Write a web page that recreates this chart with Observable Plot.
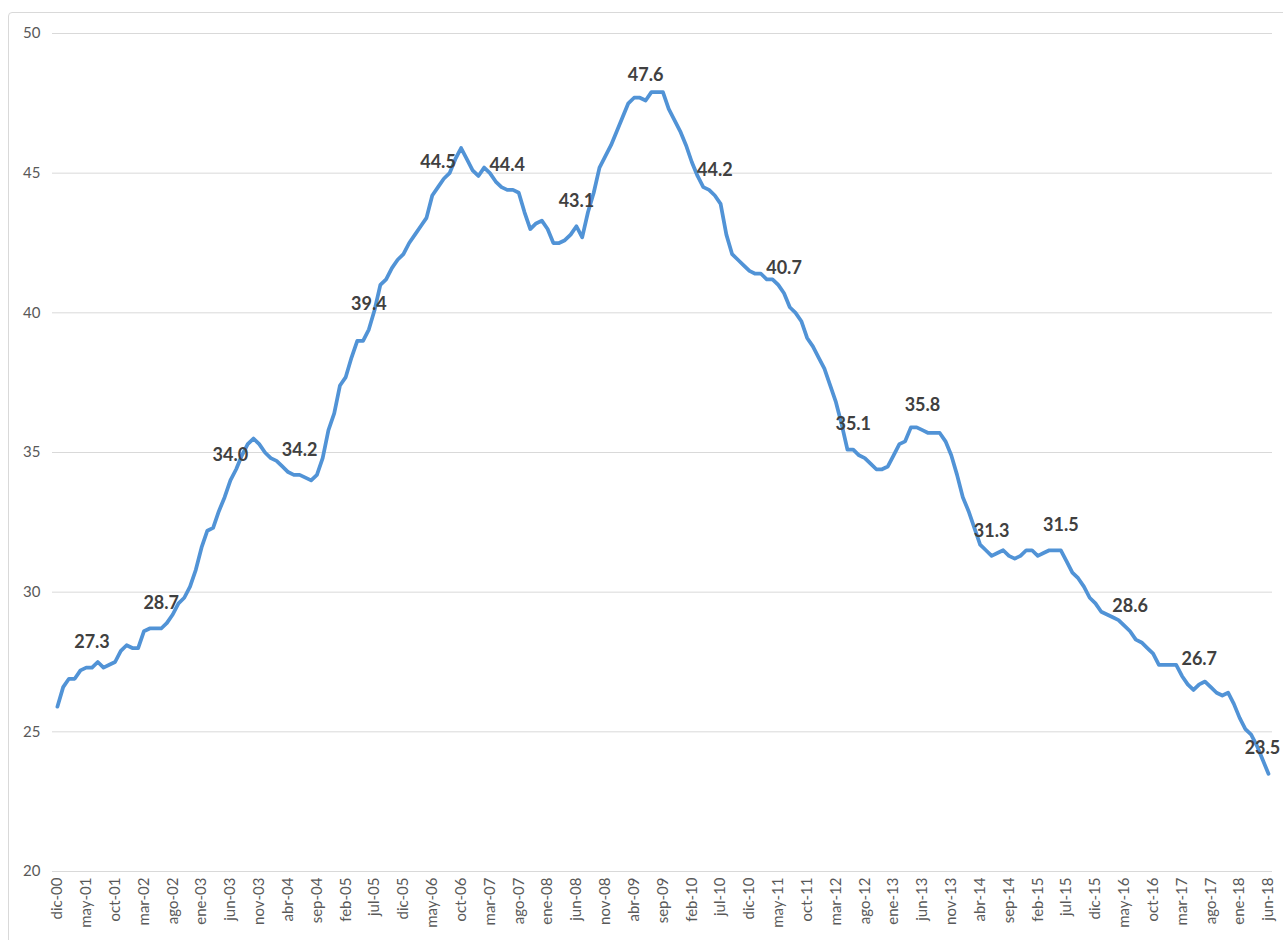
<!DOCTYPE html>
<html>
<head>
<meta charset="utf-8">
<script src="https://cdn.jsdelivr.net/npm/d3@7"></script>
<script src="https://cdn.jsdelivr.net/npm/@observablehq/plot@0.6"></script>
<style>
  html, body { margin: 0; padding: 0; background: #ffffff; }
  #wrap { position: relative; width: 1283px; height: 940px; overflow: hidden; }
  #frame { position: absolute; left: 8px; top: 12px; width: 1400px; height: 1000px; border: 1px solid #d9d9d9; border-radius: 4px; }
  #chart { position: absolute; left: 0; top: 0; }
</style>
</head>
<body>
<div id="wrap"><div id="frame"></div><div id="chart"></div></div>
<script>
// Monthly series, dic-00 (index 0) to jun-18 (index 210)
const values = [
  25.9, 26.6, 26.9, 26.9, 27.2, 27.3, 27.3, 27.5, 27.3, 27.4,
  27.5, 27.9, 28.1, 28.0, 28.0, 28.6, 28.7, 28.7, 28.7, 28.9,
  29.2, 29.6, 29.8, 30.2, 30.8, 31.6, 32.2, 32.3, 32.9, 33.4,
  34.0, 34.4, 34.9, 35.3, 35.5, 35.3, 35.0, 34.8, 34.7, 34.5,
  34.3, 34.2, 34.2, 34.1, 34.0, 34.2, 34.8, 35.8, 36.4, 37.4,
  37.7, 38.4, 39.0, 39.0, 39.4, 40.1, 41.0, 41.2, 41.6, 41.9,
  42.1, 42.5, 42.8, 43.1, 43.4, 44.2, 44.5, 44.8, 45.0, 45.5,
  45.9, 45.5, 45.1, 44.9, 45.2, 45.0, 44.7, 44.5, 44.4, 44.4,
  44.3, 43.6, 43.0, 43.2, 43.3, 43.0, 42.5, 42.5, 42.6, 42.8,
  43.1, 42.7, 43.6, 44.3, 45.2, 45.6, 46.0, 46.5, 47.0, 47.5,
  47.7, 47.7, 47.6, 47.9, 47.9, 47.9, 47.3, 46.9, 46.5, 46.0,
  45.4, 44.9, 44.5, 44.4, 44.2, 43.9, 42.8, 42.1, 41.9, 41.7,
  41.5, 41.4, 41.4, 41.2, 41.2, 41.0, 40.7, 40.2, 40.0, 39.7,
  39.1, 38.8, 38.4, 38.0, 37.4, 36.8, 36.0, 35.1, 35.1, 34.9,
  34.8, 34.6, 34.4, 34.4, 34.5, 34.9, 35.3, 35.4, 35.9, 35.9,
  35.8, 35.7, 35.7, 35.7, 35.4, 34.9, 34.2, 33.4, 32.9, 32.3,
  31.7, 31.5, 31.3, 31.4, 31.5, 31.3, 31.2, 31.3, 31.5, 31.5,
  31.3, 31.4, 31.5, 31.5, 31.5, 31.1, 30.7, 30.5, 30.2, 29.8,
  29.6, 29.3, 29.2, 29.1, 29.0, 28.8, 28.6, 28.3, 28.2, 28.0,
  27.8, 27.4, 27.4, 27.4, 27.4, 27.0, 26.7, 26.5, 26.7, 26.8,
  26.6, 26.4, 26.3, 26.4, 26.0, 25.5, 25.1, 24.9, 24.5, 24.0, 23.5
];

// X-axis tick labels (every 5th month)
const tickIndex = [0,5,10,15,20,25,30,35,40,45,50,55,60,65,70,75,80,85,90,95,100,105,110,115,120,125,130,135,140,145,150,155,160,165,170,175,180,185,190,195,200,205,210];
const tickLabels = ["dic-00","may-01","oct-01","mar-02","ago-02","ene-03","jun-03","nov-03","abr-04","sep-04","feb-05","jul-05","dic-05","may-06","oct-06","mar-07","ago-07","ene-08","jun-08","nov-08","abr-09","sep-09","feb-10","jul-10","dic-10","may-11","oct-11","mar-12","ago-12","ene-13","jun-13","nov-13","abr-14","sep-14","feb-15","jul-15","dic-15","may-16","oct-16","mar-17","ago-17","ene-18","jun-18"];

// Y-axis ticks
const yTicks = [20, 25, 30, 35, 40, 45, 50];

// Months carrying a data label (June of each year)
const labelIndex = [6,18,30,42,54,66,78,90,102,114,126,138,150,162,174,186,198,210];

const data = values.map((v, i) => ({i, v}));
const labelData = labelIndex.map(i => ({i, v: values[i]}));
const lastLabel = labelData.slice(-1);
const otherLabels = labelData.slice(0, -1);

const font = "Lato, 'Open Sans', 'DejaVu Sans', sans-serif";
const labelStyle = {x: "i", y: "v", text: d => d.v.toFixed(1), dy: -25,
  fontSize: 18, fontWeight: "bold", fill: "#404040", fontFamily: font};

const chart = Plot.plot({
  width: 1283,
  height: 940,
  marginLeft: 52,
  marginRight: 11,
  marginTop: 33,
  marginBottom: 69,
  style: {fontFamily: font, background: "transparent", overflow: "visible"},
  x: {type: "linear", domain: [-0.85, 210.7]},
  y: {domain: [20, 50]},
  marks: [
    Plot.gridY(yTicks, {stroke: "#d9d9d9", strokeOpacity: 1, strokeWidth: 1}),
    Plot.axisY(yTicks, {tickSize: 0, tickPadding: 12, fontSize: 15, fill: "#595959", label: null}),
    Plot.axisX(tickIndex, {
      tickSize: 0, tickPadding: 6, tickRotate: -90, fontSize: 15, fill: "#595959", label: null,
      tickFormat: d => tickLabels[tickIndex.indexOf(d)]
    }),
    Plot.line(data, {x: "i", y: "v", stroke: "#5193d6", strokeWidth: 3.75, strokeLinejoin: "round", strokeLinecap: "round"}),
    Plot.text(otherLabels, labelStyle),
    Plot.text(lastLabel, {...labelStyle, dx: -6})
  ]
});

document.getElementById("chart").appendChild(chart);
</script>
</body>
</html>
